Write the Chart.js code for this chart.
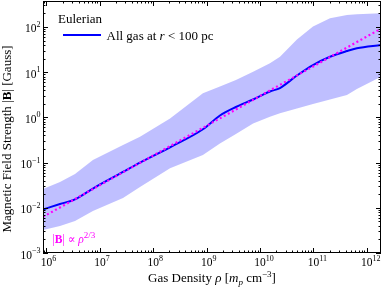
<!DOCTYPE html>
<html>
<head>
<meta charset="utf-8">
<script src="https://cdn.jsdelivr.net/npm/chart.js@4.4.0/dist/chart.umd.min.js"></script>
<style>
  html, body { margin: 0; padding: 0; background: #fff; }
</style>
</head>
<body>
<canvas id="bfield-chart" width="382" height="287"></canvas>
<script>
// values
var density = [8.6e5, 1.79e6, 3.42e6, 7.4e6, 2.71e7, 5.64e7, 2.06e8, 8.5e8, 1.77e9, 3.53e9, 7.4e9, 1.53e10, 2.36e10, 4.9e10, 9.8e10, 2.04e11, 4.24e11, 6.5e11, 1.84e12];
var medianB = [0.0092, 0.0121, 0.0154, 0.0267, 0.062, 0.100, 0.218, 0.546, 1.10, 1.70, 2.49, 3.74, 4.47, 8.45, 14.4, 22.0, 29.4, 33.8, 40.0];
var upperB = [0.0261, 0.0373, 0.0560, 0.114, 0.245, 0.374, 0.946, 3.41, 4.80, 6.71, 10.2, 15.7, 22.0, 52.8, 102, 156, 184, 191, 201];
var lowerB = [0.00323, 0.00396, 0.0051, 0.0085, 0.0165, 0.0289, 0.0748, 0.147, 0.265, 0.430, 0.733, 1.04, 1.23, 1.57, 1.98, 2.49, 3.13, 4.25, 7.94];
var fitDensity = [8.6e5, 1.84e12];
var fitB = [0.0063, 92];
var xTicks = [1e6, 1e7, 1e8, 1e9, 1e10, 1e11, 1e12];
var yTicks = [1e-3, 1e-2, 1e-1, 1e0, 1e1, 1e2];

var SERIF = '"Liberation Serif", "DejaVu Serif", serif';
Chart.defaults.font.family = SERIF;
Chart.defaults.color = '#000';

function pts(xs, ys) {
  return xs.map(function(x, i) { return { x: x, y: ys[i] }; });
}

function expOf(v) {
  var e = Math.round(Math.log10(v));
  return (e < 0 ? '−' : '') + Math.abs(e);
}

// text made of pieces in different fonts
function rich(ctx, segs, x, y, align) {
  var w = 0;
  segs.forEach(function(s) { ctx.font = s[1]; w += ctx.measureText(s[0]).width; });
  var cx = align === 'center' ? x - w / 2 : (align === 'right' ? x - w : x);
  segs.forEach(function(s) {
    ctx.font = s[1];
    ctx.fillText(s[0], cx, y + (s[2] || 0));
    cx += ctx.measureText(s[0]).width;
  });
}

var decorations = {
  id: 'decorations',
  afterDraw: function(chart) {
    var ctx = chart.ctx, a = chart.chartArea;
    var xs = chart.scales.x, ys = chart.scales.y;
    ctx.save();
    ctx.strokeStyle = '#000';
    ctx.lineWidth = 1;
    ctx.beginPath();
    // inward ticks on all four sides
    for (var d = 5; d <= 12; d++) {
      for (var s = 1; s <= 9; s++) {
        var v = s * Math.pow(10, d);
        if (v < xs.min || v > xs.max) continue;
        var px = Math.round(xs.getPixelForValue(v)) + 0.5;
        var len = s === 1 ? 5 : 2.5;
        ctx.moveTo(px, a.bottom); ctx.lineTo(px, a.bottom - len);
        ctx.moveTo(px, a.top); ctx.lineTo(px, a.top + len);
      }
    }
    for (var d2 = -3; d2 <= 2; d2++) {
      for (var s2 = 1; s2 <= 9; s2++) {
        var v2 = s2 * Math.pow(10, d2);
        if (v2 < ys.min || v2 > ys.max) continue;
        var py = Math.round(ys.getPixelForValue(v2)) + 0.5;
        var len2 = s2 === 1 ? 5 : 2.5;
        ctx.moveTo(a.left, py); ctx.lineTo(a.left + len2, py);
        ctx.moveTo(a.right, py); ctx.lineTo(a.right - len2, py);
      }
    }
    ctx.stroke();
    ctx.strokeRect(a.left + 0.5, a.top + 0.5, a.right - a.left - 1, a.bottom - a.top - 1);

    ctx.fillStyle = '#000';
    ctx.textBaseline = 'alphabetic';
    var tf = '11.5px ' + SERIF, sf = '8px ' + SERIF;
    // tick labels: "10" centred on the tick, exponent raised to the right
    xs.ticks.forEach(function(t) {
      var px = xs.getPixelForValue(t.value);
      ctx.font = tf;
      var w = ctx.measureText('10').width;
      rich(ctx, [['10', tf], [expOf(t.value), sf, -5]], px - w / 2, 265.5, 'left');
    });
    ys.ticks.forEach(function(t) {
      var py = ys.getPixelForValue(t.value);
      rich(ctx, [['10', tf], [expOf(t.value), sf, -5.5]], 40.5, py + 5.5, 'right');
    });

    // x title
    var f = '13px ' + SERIF;
    rich(ctx, [['Gas Density ', f], ['ρ', 'italic ' + f], [' [', f], ['m', 'italic ' + f],
               ['p', 'italic 9px ' + SERIF, 3], [' cm', f], ['−3', '9px ' + SERIF, -5], [']', f]],
         212, 282, 'center');
    // y title
    ctx.save();
    ctx.translate(11, 139);
    ctx.rotate(-Math.PI / 2);
    rich(ctx, [['Magnetic Field Strength |', f], ['B', 'bold ' + f], ['| [Gauss]', f]], 0, 0, 'center');
    ctx.restore();

    // legend
    ctx.font = f;
    ctx.fillText('Eulerian', 58, 23);
    ctx.strokeStyle = '#0000ff';
    ctx.lineWidth = 2;
    ctx.beginPath();
    ctx.moveTo(63, 35); ctx.lineTo(101, 35);
    ctx.stroke();
    rich(ctx, [['All gas at ', f], ['r', 'italic ' + f], [' < 100 pc', f]], 106.5, 39.5, 'left');

    // power law label
    ctx.fillStyle = '#ff00ff';
    var g = '11.5px ' + SERIF;
    rich(ctx, [['|', g], ['B', 'bold ' + g], ['| ∝ ', g], ['ρ', 'italic ' + g], ['2/3', '9px ' + SERIF, -5]],
         52.5, 243, 'left');
    ctx.restore();
  }
};

new Chart(document.getElementById('bfield-chart'), {
  type: 'line',
  data: {
    datasets: [
      {
        label: 'upper', data: pts(density, upperB), order: 2,
        borderWidth: 0, pointRadius: 0, fill: '+1',
        backgroundColor: 'rgba(0,0,255,0.25)', borderColor: 'rgba(0,0,255,0)'
      },
      {
        label: 'lower', data: pts(density, lowerB), order: 3,
        borderWidth: 0, pointRadius: 0, fill: false, borderColor: 'rgba(0,0,255,0)'
      },
      {
        label: 'All gas at r < 100 pc', data: pts(density, medianB), order: 1,
        borderColor: '#0000ff', borderWidth: 2, pointRadius: 0, fill: false,
        cubicInterpolationMode: 'monotone'
      },
      {
        label: '|B| ∝ ρ^2/3', data: pts(fitDensity, fitB), order: 0,
        borderColor: '#ff00ff', borderWidth: 2.2, borderDash: [2, 2.6], pointRadius: 0, fill: false
      }
    ]
  },
  options: {
    responsive: false,
    animation: false,
    devicePixelRatio: 1,
    layout: { padding: { top: 1, right: 1, left: 0, bottom: 0 } },
    plugins: { legend: { display: false }, tooltip: { enabled: false } },
    scales: {
      x: {
        type: 'logarithmic', min: 8.6e5, max: 1.84e12,
        grid: { display: false, drawTicks: false }, border: { display: false },
        ticks: { display: false },
        afterBuildTicks: function(s) { s.ticks = xTicks.map(function(v) { return { value: v }; }); },
        afterFit: function(s) { s.height = 34; }
      },
      y: {
        type: 'logarithmic', min: 1e-3, max: 376,
        grid: { display: false, drawTicks: false }, border: { display: false },
        ticks: { display: false },
        afterBuildTicks: function(s) { s.ticks = yTicks.map(function(v) { return { value: v }; }); },
        afterFit: function(s) { s.width = 43; }
      }
    }
  },
  plugins: [decorations]
});
</script>
</body>
</html>
